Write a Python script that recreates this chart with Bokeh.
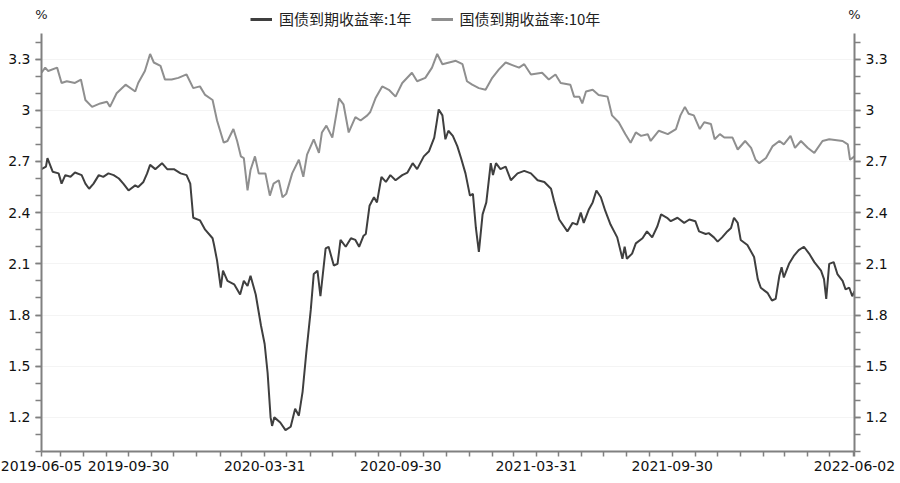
import numpy as np
import pandas as pd
from bokeh.plotting import figure
from bokeh.layouts import column
from bokeh.models import (FixedTicker, CustomJSTickFormatter, LinearAxis, Range1d,
                          Legend, LegendItem, Label, ColumnDataSource)
from bokeh.embed import file_html
from bokeh.resources import INLINE

# ---------------- data ----------------
start_date = "2019-06-05"
end_date = "2022-06-02"

# 国债到期收益率:1年  (days after start_date, yield %)
y1_days = [0, 6, 8, 15, 23, 27, 32, 39, 45, 54, 59, 64, 70, 77, 83, 90, 97, 104, 110, 117,
           126, 130, 137, 142, 146, 153, 162, 169, 178, 187, 195, 200, 204, 213, 220, 230, 232,
           236, 241, 244, 250, 259, 267, 272, 277, 281, 288, 295, 300, 304, 308, 310, 313, 321,
           328, 335, 341, 346, 351, 356, 362, 366, 371, 375, 382, 386, 393, 398, 402, 409, 416,
           422, 427, 433, 436, 441, 447, 451, 457, 463, 469, 476, 485, 492, 499, 505, 514, 521,
           528, 531, 534, 539, 543, 547, 553, 559, 564, 570, 576, 580, 584, 588, 593, 598, 604,
           607, 611, 617, 624, 631, 640, 649, 658, 667, 676, 685, 689, 696, 707, 714, 720, 725,
           729, 736, 741, 746, 752, 758, 765, 774, 781, 784, 787, 794, 799, 808, 814, 821, 828,
           833, 841, 846, 855, 864, 871, 879, 884, 893, 897, 904, 909, 915, 922, 927, 931, 936,
           940, 949, 958, 963, 967, 976, 982, 987, 992, 995, 998, 1005, 1012, 1018, 1025, 1032,
           1039, 1048, 1052, 1055, 1059, 1065, 1070, 1077, 1081, 1086, 1090, 1093]
y1_values = [2.655, 2.67, 2.72, 2.64, 2.63, 2.57, 2.62, 2.61, 2.635, 2.62, 2.57, 2.54, 2.57, 2.62,
             2.61, 2.63, 2.62, 2.60, 2.57, 2.53, 2.56, 2.55, 2.58, 2.63, 2.68, 2.655, 2.69, 2.655,
             2.655, 2.63, 2.62, 2.57, 2.37, 2.355, 2.30, 2.25, 2.21, 2.12, 1.96, 2.06, 2.00, 1.98,
             1.92, 2.00, 1.97, 2.03, 1.92, 1.74, 1.63, 1.46, 1.20, 1.15, 1.20, 1.17, 1.125, 1.145,
             1.25, 1.21, 1.35, 1.58, 1.83, 2.04, 2.06, 1.91, 2.19, 2.20, 2.09, 2.10, 2.24, 2.20,
             2.25, 2.24, 2.20, 2.265, 2.275, 2.44, 2.49, 2.46, 2.61, 2.58, 2.62, 2.59, 2.62, 2.635,
             2.69, 2.655, 2.73, 2.76, 2.84, 2.92, 3.005, 2.97, 2.83, 2.88, 2.85, 2.79, 2.72, 2.63,
             2.50, 2.51, 2.31, 2.17, 2.39, 2.46, 2.69, 2.62, 2.69, 2.655, 2.67, 2.59, 2.63, 2.645,
             2.63, 2.59, 2.58, 2.54, 2.47, 2.36, 2.29, 2.34, 2.33, 2.40, 2.34, 2.42, 2.46, 2.53,
             2.49, 2.41, 2.33, 2.255, 2.13, 2.20, 2.13, 2.16, 2.22, 2.25, 2.29, 2.255, 2.32, 2.39,
             2.37, 2.35, 2.37, 2.34, 2.36, 2.35, 2.29, 2.275, 2.28, 2.255, 2.23, 2.255, 2.29, 2.31,
             2.37, 2.34, 2.24, 2.21, 2.14, 2.01, 1.96, 1.93, 1.885, 1.895, 2.03, 2.08, 2.02, 2.10,
             2.15, 2.18, 2.20, 2.16, 2.11, 2.06, 2.01, 1.895, 2.10, 2.11, 2.04, 2.00, 1.95, 1.96,
             1.91, 1.94]

# 国债到期收益率:10年
y10_days = [0, 5, 9, 21, 27, 34, 45, 53, 59, 68, 79, 88, 92, 101, 113, 126, 130, 139, 146, 151,
            160, 166, 175, 184, 195, 204, 213, 220, 230, 236, 245, 250, 258, 263, 268, 272, 277,
            281, 287, 292, 301, 307, 312, 319, 324, 329, 337, 346, 352, 357, 366, 373, 377, 383,
            391, 400, 406, 413, 422, 429, 438, 442, 449, 458, 467, 476, 485, 498, 505, 516, 525,
            532, 539, 548, 557, 566, 572, 579, 588, 597, 606, 615, 624, 633, 642, 649, 658, 673,
            682, 691, 698, 711, 716, 723, 727, 732, 741, 749, 761, 767, 776, 785, 792, 799, 806,
            815, 819, 830, 842, 853, 859, 865, 870, 877, 885, 891, 900, 905, 912, 918, 929, 936,
            946, 954, 960, 965, 974, 983, 992, 998, 1007, 1013, 1021, 1030, 1039, 1050, 1059,
            1077, 1084, 1087, 1093]
y10_values = [3.22, 3.25, 3.23, 3.25, 3.16, 3.17, 3.16, 3.18, 3.06, 3.02, 3.04, 3.05, 3.02, 3.10,
              3.15, 3.11, 3.16, 3.23, 3.33, 3.28, 3.26, 3.18, 3.18, 3.19, 3.21, 3.13, 3.14, 3.09,
              3.06, 2.94, 2.81, 2.82, 2.89, 2.82, 2.73, 2.72, 2.53, 2.65, 2.73, 2.63, 2.63, 2.50,
              2.57, 2.59, 2.49, 2.51, 2.63, 2.71, 2.61, 2.74, 2.83, 2.75, 2.87, 2.91, 2.84, 3.07,
              3.035, 2.87, 2.96, 2.94, 2.97, 2.99, 3.07, 3.14, 3.12, 3.08, 3.16, 3.22, 3.17, 3.19,
              3.25, 3.33, 3.27, 3.28, 3.29, 3.27, 3.17, 3.15, 3.13, 3.12, 3.19, 3.24, 3.28, 3.265,
              3.25, 3.27, 3.21, 3.22, 3.18, 3.21, 3.16, 3.15, 3.08, 3.08, 3.04, 3.11, 3.12, 3.09,
              3.08, 2.97, 2.93, 2.86, 2.81, 2.87, 2.85, 2.86, 2.82, 2.88, 2.86, 2.89, 2.97, 3.02,
              2.98, 2.97, 2.89, 2.93, 2.92, 2.83, 2.86, 2.84, 2.84, 2.77, 2.82, 2.78, 2.71, 2.69,
              2.72, 2.79, 2.82, 2.80, 2.85, 2.78, 2.82, 2.78, 2.75, 2.82, 2.83, 2.82, 2.80, 2.71,
              2.73]

series_names = ["国债到期收益率:1年", "国债到期收益率:10年"]
series_colors = ["#3f3f3f", "#8f8f8f"]
x_tick_labels = ["2019-06-05", "2019-09-30", "2020-03-31", "2020-09-30",
                 "2021-03-31", "2021-09-30", "2022-06-02"]
y_major_ticks = [1.2, 1.5, 1.8, 2.1, 2.4, 2.7, 3.0, 3.3]
y_minor_ticks = [1.0, 1.1, 1.2, 1.3, 1.4, 1.5, 1.6, 1.7, 1.8, 1.9, 2.0, 2.1, 2.2, 2.3, 2.4,
                 2.5, 2.6, 2.7, 2.8, 2.9, 3.0, 3.1, 3.2, 3.3, 3.4]
y_min, y_max = 1.0, 3.45
unit_label = "%"

# ---------------- layout constants ----------------
W = 896
HEADER_H = 33
MAIN_H = 447
BORDER_L, BORDER_R, BORDER_B = 41, 42, 29
FONT = "DejaVu Sans"
AXIS_COLOR = "#808080"

# ---------------- build ----------------
start = pd.Timestamp(start_date)
end = pd.Timestamp(end_date)
src1 = ColumnDataSource(dict(x=start + pd.to_timedelta(y1_days, unit="D"), y=y1_values))
src10 = ColumnDataSource(dict(x=start + pd.to_timedelta(y10_days, unit="D"), y=y10_values))

def to_ms(ts):
    return ts.value / 1e6

try:
    month_ends = pd.date_range(start, end, freq="ME")
except Exception:
    month_ends = pd.date_range(start, end, freq="M")
x_ticks = [to_ms(start)] + [to_ms(t) for t in month_ends] + [to_ms(end)]

p = figure(width=W, height=MAIN_H, x_axis_type="datetime",
           x_range=Range1d(to_ms(start), to_ms(end)), y_range=Range1d(y_min, y_max),
           output_backend="svg", toolbar_location=None,
           min_border_left=BORDER_L, min_border_right=BORDER_R,
           min_border_top=0, min_border_bottom=BORDER_B)
p.frame_align = False
p.outline_line_color = None
p.background_fill_color = "white"
p.xgrid.grid_line_color = None
p.ygrid.grid_line_color = "#f4f4f4"
p.ygrid.ticker = FixedTicker(ticks=y_major_ticks)

p.line("x", "y", source=src1, line_color=series_colors[0], line_width=2)
p.line("x", "y", source=src10, line_color=series_colors[1], line_width=2)

y_fmt = CustomJSTickFormatter(code="return String(Math.round(tick*10)/10);")
x_fmt = CustomJSTickFormatter(args=dict(labels=x_tick_labels), code="""
const s = new Date(tick).toISOString().slice(0, 10);
return labels.includes(s) ? s : "";
""")

right_axis = LinearAxis()
p.add_layout(right_axis, "right")

for ax in [p.yaxis[0], right_axis]:
    ax.ticker = FixedTicker(ticks=y_major_ticks, minor_ticks=y_minor_ticks)
    ax.formatter = y_fmt
    ax.major_tick_out = 6
    ax.minor_tick_out = 6
    ax.major_label_standoff = 5

xa = p.xaxis[0]
xa.ticker = FixedTicker(ticks=x_ticks)
xa.formatter = x_fmt
xa.major_tick_out = 5
xa.minor_tick_out = 0
xa.major_label_standoff = 4

for ax in [xa, p.yaxis[0], right_axis]:
    ax.axis_line_color = AXIS_COLOR
    ax.axis_line_width = 2
    ax.major_tick_line_color = AXIS_COLOR
    ax.major_tick_line_width = 1.5
    ax.minor_tick_line_color = AXIS_COLOR
    ax.minor_tick_line_width = 1.5
    ax.major_tick_in = 0
    ax.minor_tick_in = 0
    ax.major_label_text_font = FONT
    ax.major_label_text_font_size = "14px"
    ax.major_label_text_color = "#111111"

# ---------------- header: unit labels + legend ----------------
h = figure(width=W, height=HEADER_H, x_range=Range1d(0, W), y_range=Range1d(0, HEADER_H),
           output_backend="svg", toolbar_location=None,
           x_axis_location=None, y_axis_location=None,
           min_border_left=0, min_border_right=0, min_border_top=0, min_border_bottom=0)
h.frame_align = False
h.grid.visible = False
h.outline_line_color = None

for sx in [BORDER_L, W - BORDER_R]:
    h.add_layout(Label(x=sx, y=HEADER_H - 14, x_units="screen", y_units="screen",
                       text=unit_label, text_align="center", text_baseline="middle",
                       text_font=FONT, text_font_size="13px", text_color="#222222"))

# legend proxies share the series sources (their points fall outside this header's range)
k1 = h.line("x", "y", source=src1, line_color=series_colors[0], line_width=3)
k10 = h.line("x", "y", source=src10, line_color=series_colors[1], line_width=3)
legend = Legend(items=[LegendItem(label=series_names[0], renderers=[k1]),
                       LegendItem(label=series_names[1], renderers=[k10])],
                orientation="horizontal", location=(250, 4),
                border_line_color=None, background_fill_alpha=0,
                padding=0, margin=0, spacing=19, glyph_width=22, glyph_height=14,
                label_standoff=7, label_height=14,
                label_text_font="Noto Sans CJK SC", label_text_font_size="15px",
                label_text_color="#222222")
h.add_layout(legend)

layout = column(h, p, spacing=0)
open("out.html", "w").write(file_html(layout, INLINE))
